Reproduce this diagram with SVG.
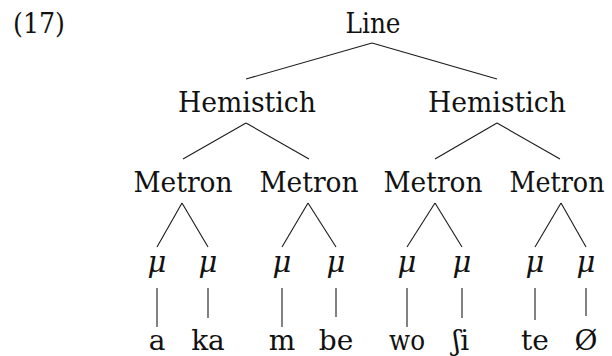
<svg xmlns="http://www.w3.org/2000/svg" width="612" height="356" viewBox="0 0 612 356">
<style>
text{font-size:28px;fill:#111;text-anchor:middle}
.mu{font-style:italic;font-size:29px}
.num{text-anchor:start}
#edges line{stroke:#1a1a1a;stroke-width:1.1}
</style>
<rect width="612" height="356" fill="#fff"/>
<g font-family="DejaVu Serif, Liberation Serif, serif">
<text class="num" x="13" y="33" textLength="52" lengthAdjust="spacingAndGlyphs">(17)</text>
<g id="edges">
<line x1="372" y1="43" x2="246" y2="79"/>
<line x1="372" y1="43" x2="497" y2="79"/>
<line x1="246" y1="123" x2="183" y2="159"/>
<line x1="246" y1="123" x2="309" y2="159"/>
<line x1="497" y1="123" x2="435" y2="159"/>
<line x1="497" y1="123" x2="560" y2="159"/>
<line x1="182" y1="203" x2="157" y2="247"/>
<line x1="182" y1="203" x2="208" y2="247"/>
<line x1="308" y1="203" x2="282" y2="247"/>
<line x1="308" y1="203" x2="336" y2="247"/>
<line x1="435" y1="203" x2="407" y2="247"/>
<line x1="435" y1="203" x2="462" y2="247"/>
<line x1="561" y1="203" x2="535" y2="247"/>
<line x1="561" y1="203" x2="586" y2="247"/>
<line x1="157" y1="288" x2="157" y2="327"/>
<line x1="208" y1="288" x2="208" y2="318"/>
<line x1="282" y1="288" x2="282" y2="327"/>
<line x1="336" y1="288" x2="336" y2="317"/>
<line x1="407" y1="288" x2="407" y2="327"/>
<line x1="462" y1="288" x2="462" y2="318"/>
<line x1="535" y1="288" x2="535" y2="320"/>
<line x1="586" y1="288" x2="586" y2="316"/>
</g>
<g id="line"><text x="373" y="33" textLength="55" lengthAdjust="spacingAndGlyphs">Line</text></g>
<g id="hem1"><text x="247" y="112" textLength="138" lengthAdjust="spacingAndGlyphs">Hemistich</text></g>
<g id="hem2"><text x="497" y="112" textLength="138" lengthAdjust="spacingAndGlyphs">Hemistich</text></g>
<g id="met1"><text x="183" y="192" textLength="99" lengthAdjust="spacingAndGlyphs">Metron</text></g>
<g id="met2"><text x="309" y="192" textLength="99" lengthAdjust="spacingAndGlyphs">Metron</text></g>
<g id="met3"><text x="433" y="192" textLength="99" lengthAdjust="spacingAndGlyphs">Metron</text></g>
<g id="met4"><text x="557" y="192" textLength="95" lengthAdjust="spacingAndGlyphs">Metron</text></g>
<g id="mu1"><text class="mu" x="157" y="272">μ</text></g>
<g id="mu2"><text class="mu" x="208" y="272">μ</text></g>
<g id="mu3"><text class="mu" x="282" y="272">μ</text></g>
<g id="mu4"><text class="mu" x="336" y="272">μ</text></g>
<g id="mu5"><text class="mu" x="407" y="272">μ</text></g>
<g id="mu6"><text class="mu" x="462" y="272">μ</text></g>
<g id="mu7"><text class="mu" x="535" y="272">μ</text></g>
<g id="mu8"><text class="mu" x="586" y="272">μ</text></g>
<g id="leaf1"><text x="157" y="350">a</text></g>
<g id="leaf2"><text x="208" y="350">ka</text></g>
<g id="leaf3"><text x="282" y="350">m</text></g>
<g id="leaf4"><text x="336" y="350">be</text></g>
<g id="leaf5"><text x="407" y="350" textLength="36" lengthAdjust="spacingAndGlyphs">wo</text></g>
<g id="leaf6"><text x="461" y="350">ʃi</text></g>
<g id="leaf7"><text x="535" y="350">te</text></g>
<g id="leaf8"><text x="586" y="350">Ø</text></g>
</g>
</svg>
